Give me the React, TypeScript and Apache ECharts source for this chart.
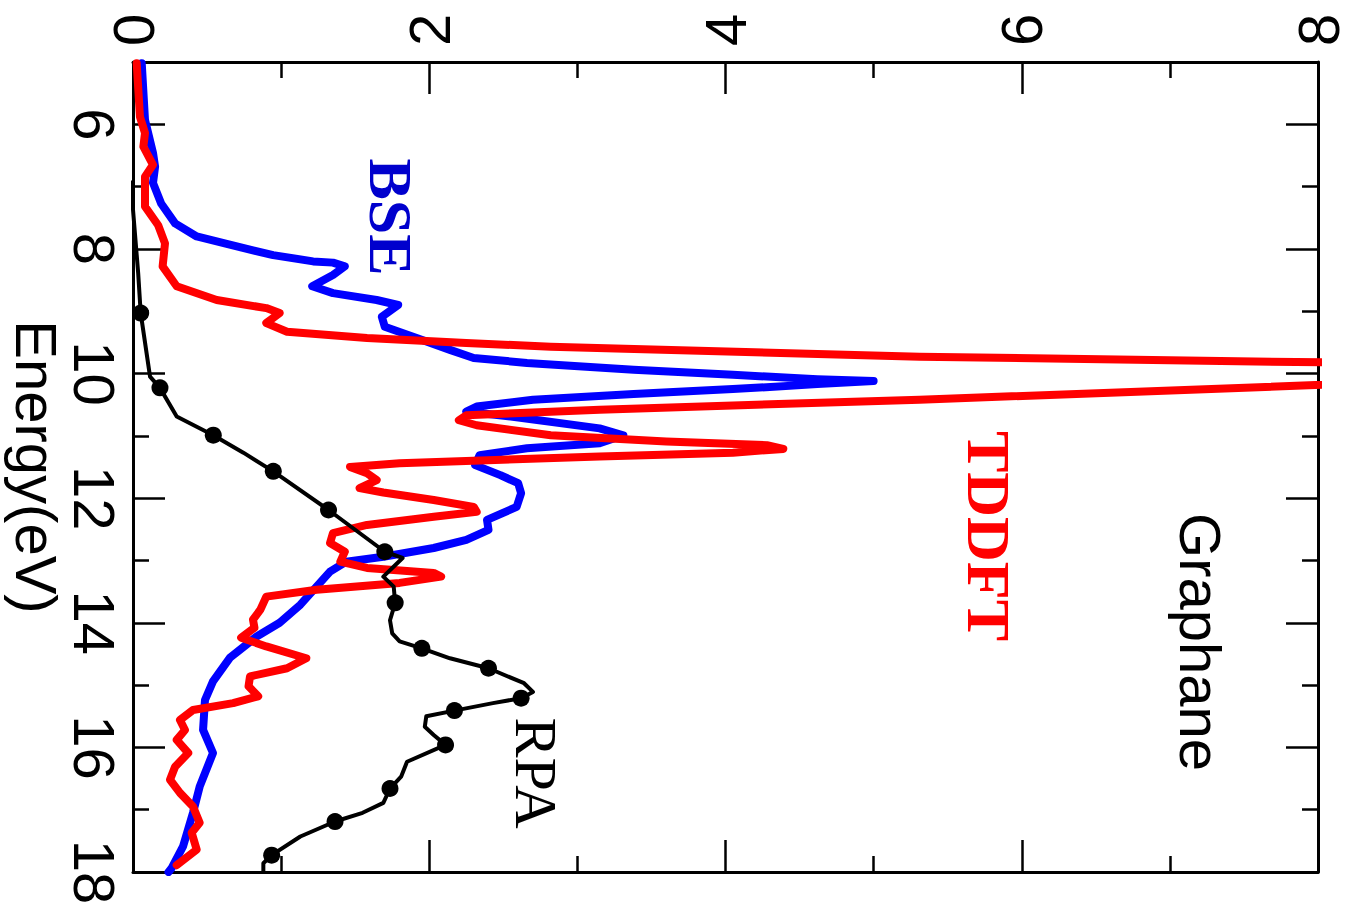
import React, { useEffect, useRef } from "react";
import * as echarts from "echarts";

// Energy (eV) axis: major/minor tick positions
const energyMajor = [6, 8, 10, 12, 14, 16, 18];
const energyMinor = [7, 9, 11, 13, 15, 17];

// [value, energy(eV)]
const bseData: [number, number][] = [
  [0.059, 5.02], [0.081, 5.93], [0.135, 6.46], [0.149, 6.68], [0.135, 6.94], [0.19, 7.27],
  [0.284, 7.59], [0.43, 7.8], [0.633, 7.92], [0.946, 8.1], [1.216, 8.2], [1.35, 8.22],
  [1.43, 8.28], [1.35, 8.42], [1.21, 8.6], [1.35, 8.71], [1.645, 8.82], [1.79, 8.9],
  [1.68, 9.09], [1.7, 9.25], [1.915, 9.43], [2.14, 9.62], [2.3, 9.75], [2.66, 9.83],
  [3.38, 9.94], [4.05, 10.02], [4.62, 10.09], [5.0, 10.12], [4.62, 10.17], [4.05, 10.25],
  [3.38, 10.33], [2.7, 10.42], [2.32, 10.53], [2.25, 10.61], [2.55, 10.69], [3.15, 10.88],
  [3.31, 10.99], [3.15, 11.12], [2.66, 11.2], [2.34, 11.31], [2.31, 11.47], [2.48, 11.63],
  [2.6, 11.76], [2.62, 11.92], [2.59, 12.14], [2.39, 12.35], [2.4, 12.51], [2.25, 12.67],
  [2.03, 12.8], [1.69, 12.94], [1.44, 13.02], [1.33, 13.18], [1.13, 13.71], [0.99, 14.0],
  [0.835, 14.22], [0.655, 14.56], [0.54, 14.94], [0.486, 15.24], [0.473, 15.72], [0.54, 16.09],
  [0.45, 16.63], [0.405, 17.05], [0.338, 17.59], [0.26, 17.94], [0.24, 18.0],
];

const tddftData: [number, number][] = [
  [0.025, 5.02], [0.047, 5.88], [0.081, 6.14], [0.07, 6.36], [0.135, 6.65], [0.081, 6.84],
  [0.081, 7.32], [0.17, 7.62], [0.216, 7.91], [0.2, 8.28], [0.295, 8.6], [0.565, 8.82],
  [0.9, 8.95], [0.99, 9.03], [0.9, 9.19], [1.04, 9.33], [1.58, 9.43], [2.25, 9.51],
  [2.82, 9.57], [5.31, 9.73], [11.0, 9.92], [5.31, 10.42], [3.15, 10.58], [2.25, 10.67],
  [2.2, 10.75], [2.32, 10.83], [2.82, 10.99], [3.6, 11.09], [4.28, 11.15], [4.39, 11.21],
  [4.05, 11.27], [3.15, 11.33], [1.8, 11.44], [1.465, 11.5], [1.58, 11.6], [1.645, 11.71],
  [1.53, 11.84], [1.69, 11.91], [2.03, 12.03], [2.3, 12.14], [2.32, 12.22], [2.03, 12.3],
  [1.58, 12.43], [1.35, 12.56], [1.33, 12.72], [1.43, 12.86], [1.4, 13.02], [1.58, 13.12],
  [2.03, 13.2], [2.08, 13.26], [1.8, 13.36], [1.24, 13.47], [0.9, 13.58], [0.86, 13.79],
  [0.81, 13.95], [0.82, 14.08], [0.73, 14.24], [0.9, 14.38], [1.17, 14.57], [1.04, 14.73],
  [0.79, 14.86], [0.78, 15.02], [0.845, 15.18], [0.676, 15.29], [0.405, 15.4], [0.317, 15.56],
  [0.351, 15.72], [0.295, 15.88], [0.373, 16.09], [0.284, 16.31], [0.25, 16.52], [0.317, 16.73],
  [0.405, 16.95], [0.45, 17.21], [0.396, 17.37], [0.43, 17.64], [0.295, 17.89],
];

const rpaData: [number, number][] = [
  [0, 6.9], [0, 7.37], [0.035, 8.39], [0.052, 9.03], [0.115, 10.05], [0.182, 10.23],
  [0.295, 10.69], [0.542, 10.99], [0.745, 11.27], [0.947, 11.57], [1.32, 12.19], [1.7, 12.86],
  [1.82, 12.96], [1.69, 13.26], [1.76, 13.42], [1.77, 13.68], [1.735, 13.96], [1.75, 14.17],
  [1.8, 14.3], [1.95, 14.41], [2.14, 14.57], [2.4, 14.73], [2.64, 14.97], [2.7, 15.11],
  [2.62, 15.21], [2.43, 15.29], [2.17, 15.41], [1.98, 15.5], [1.97, 15.67], [2.03, 15.8],
  [2.11, 15.96], [1.85, 16.23], [1.81, 16.47], [1.735, 16.66], [1.69, 16.89], [1.55, 17.05],
  [1.364, 17.19], [1.13, 17.43], [0.936, 17.73], [0.88, 17.86], [0.88, 18.0],
];

const rpaMarkers: [number, number][] = [
  [0.052, 9.03], [0.182, 10.23], [0.542, 10.99], [0.947, 11.57], [1.32, 12.19], [1.7, 12.86],
  [1.77, 13.68], [1.95, 14.41], [2.4, 14.73], [2.62, 15.21], [2.17, 15.41], [2.11, 15.96],
  [1.735, 16.66], [1.364, 17.19], [0.936, 17.73],
];

const SANS = "'Liberation Sans', Arial, Helvetica, sans-serif";
const SERIF = "'Liberation Serif', 'Times New Roman', serif";

export default function App() {
  const ref = useRef<HTMLDivElement>(null);

  useEffect(() => {
    if (!ref.current) return;
    const chart = echarts.init(ref.current, null, { renderer: "svg" });

    const lineStyle = { color: "#000", width: 3 };
    const xBase = (position: "top" | "bottom", labels: boolean) => ({
      type: "value",
      position,
      min: 0,
      max: 8,
      interval: 2,
      axisLine: { show: true, onZero: false, lineStyle },
      axisTick: { show: true, inside: true, length: 32, lineStyle: { color: "#000", width: 2.5 } },
      minorTick: { show: true, splitNumber: 2, length: 16, lineStyle: { color: "#000", width: 2.5 } },
      splitLine: { show: false },
      minorSplitLine: { show: false },
      axisLabel: labels
        ? { show: true, rotate: -90, margin: 16, fontSize: 58, fontFamily: SANS, color: "#000" }
        : { show: false },
    });
    const yBase = (position: "left" | "right", ticks: number[], len: number, labels: boolean, showLine: boolean) => ({
      type: "value",
      position,
      inverse: true,
      min: 5,
      max: 18,
      axisLine: { show: showLine, onZero: false, lineStyle },
      axisTick: { show: true, inside: true, length: len, customValues: ticks, lineStyle: { color: "#000", width: 2.5 } },
      splitLine: { show: false },
      axisLabel: labels
        ? { show: true, customValues: energyMajor, rotate: -90, margin: 10, fontSize: 58, fontFamily: SANS, color: "#000" }
        : { show: false },
    });

    const txt = (text: string, x: number, y: number, font: string, fill: string) => ({
      type: "text",
      x,
      y,
      rotation: -Math.PI / 2,
      z: 100,
      style: {
        text,
        font,
        fill,
        textAlign: "center",
        textVerticalAlign: "middle",
        align: "center",
        verticalAlign: "middle",
      },
    });

    chart.setOption({
      animation: false,
      backgroundColor: "#fff",
      grid: { left: 133, right: 38, top: 62, bottom: 37, containLabel: false },
      xAxis: [xBase("top", true), xBase("bottom", false)],
      yAxis: [
        yBase("left", energyMajor, 32, true, true),
        yBase("left", energyMinor, 16, false, false),
        yBase("right", energyMajor, 32, false, true),
        yBase("right", energyMinor, 16, false, false),
      ],
      series: [
        {
          name: "BSE",
          type: "line",
          data: bseData,
          xAxisIndex: 0,
          yAxisIndex: 0,
          symbol: "none",
          silent: true,
          z: 2,
          lineStyle: { color: "#0000ff", width: 8, join: "round", cap: "round" },
        },
        {
          name: "TDDFT",
          type: "line",
          data: tddftData,
          xAxisIndex: 0,
          yAxisIndex: 0,
          symbol: "none",
          silent: true,
          z: 3,
          lineStyle: { color: "#ff0000", width: 8, join: "round", cap: "round" },
        },
        {
          name: "RPA",
          type: "line",
          data: rpaData,
          xAxisIndex: 0,
          yAxisIndex: 0,
          symbol: "none",
          silent: true,
          z: 4,
          lineStyle: { color: "#000", width: 4, join: "round" },
        },
        {
          name: "RPA markers",
          type: "scatter",
          data: rpaMarkers,
          xAxisIndex: 0,
          yAxisIndex: 0,
          symbol: "circle",
          symbolSize: 17,
          silent: true,
          z: 5,
          itemStyle: { color: "#000", opacity: 1 },
        },
      ],
      graphic: [
        txt("Energy(eV)", 36, 467, `58px ${SANS}`, "#000"),
        txt("Graphane", 1200, 642, `58px ${SANS}`, "#000"),
        txt("TDDFT", 989, 536, `bold 62px ${SERIF}`, "#ff0000"),
        txt("BSE", 391, 217, `bold 62px ${SERIF}`, "#0000cd"),
        txt("RPA", 536, 773, `60px ${SERIF}`, "#000"),
      ],
    });

    return () => chart.dispose();
  }, []);

  return (
    <div
      ref={ref}
      style={{ position: "fixed", left: 0, top: 0, width: 1356, height: 909, background: "#fff" }}
    />
  );
}
